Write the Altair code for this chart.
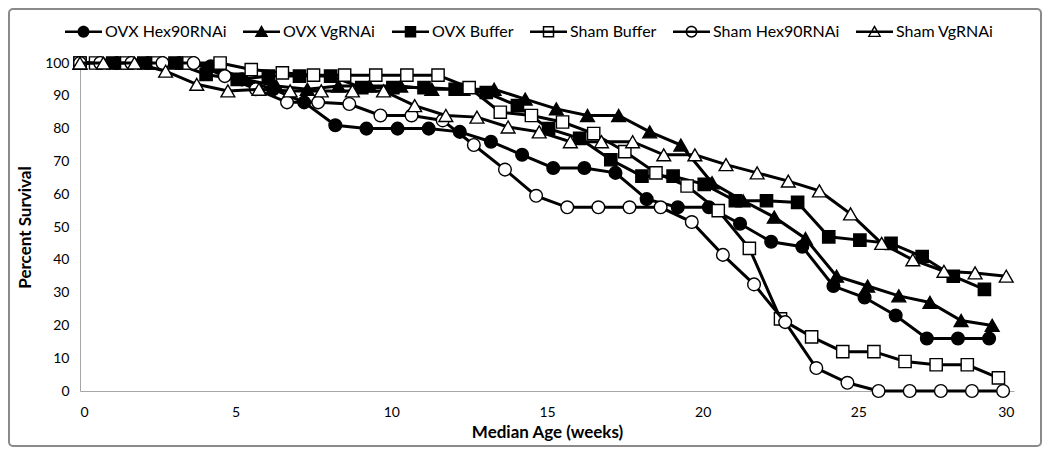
import altair as alt
import pandas as pd

series_names = ["OVX Hex90RNAi", "OVX VgRNAi", "OVX Buffer",
                "Sham Buffer", "Sham Hex90RNAi", "Sham VgRNAi"]

ovx_hex_x = [0, 1.2, 2.2, 3.2, 4.2, 5.2, 6.2, 7.2, 8.2, 9.2, 10.2, 11.2, 12.2, 13.2, 14.2,
             15.2, 16.2, 17.2, 18.2, 19.2, 20.2, 21.2, 22.2, 23.2, 24.2, 25.2, 26.2, 27.2, 28.2, 29.2]
ovx_hex_y = [100, 100, 100, 100, 99, 95, 92, 88, 81, 80, 80, 80, 79, 76, 72,
             68, 68, 66.5, 58.5, 56, 56, 51, 45.5, 44, 32, 28.5, 23, 16, 16, 16]

ovx_vg_x = [0, 1.3, 2.3, 3.3, 4.3, 5.3, 6.3, 7.3, 8.3, 9.3, 10.3, 11.3, 12.3, 13.3, 14.3,
            15.3, 16.3, 17.3, 18.3, 19.3, 20.3, 21.3, 22.3, 23.3, 24.3, 25.3, 26.3, 27.3, 28.3, 29.3]
ovx_vg_y = [100, 100, 100, 100, 99, 95, 93, 92, 93, 93, 93, 92, 92, 92, 89,
            86, 84, 84, 79, 75, 63.5, 58, 53, 46.5, 35, 32, 29, 27, 21.5, 20]

ovx_buf_x = [0, 1.05, 2.05, 3.05, 4.05, 5.05, 6.05, 7.05, 8.05, 9.05, 10.05, 11.05, 12.05, 13.05, 14.05,
             15.05, 16.05, 17.05, 18.05, 19.05, 20.05, 21.05, 22.05, 23.05, 24.05, 25.05, 26.05, 27.05, 28.05, 29.05]
ovx_buf_y = [100, 100, 100, 100, 96.5, 95, 96, 96, 96, 92.5, 92.5, 92.5, 92, 91, 87,
             80, 77, 70.5, 65.5, 65.5, 63, 58, 58, 57.5, 47, 46, 45, 41, 35, 31]

sham_buf_x = [0, 0.5, 1.5, 2.5, 3.5, 4.5, 5.5, 6.5, 7.5, 8.5, 9.5, 10.5, 11.5, 12.5, 13.5, 14.5,
              15.5, 16.5, 17.5, 18.5, 19.5, 20.5, 21.5, 22.5, 23.5, 24.5, 25.5, 26.5, 27.5, 28.5, 29.5]
sham_buf_y = [100, 100, 100, 100, 100, 100, 98, 97, 96.3, 96.3, 96.3, 96.3, 96.3, 92.5, 85, 84,
              82, 78.5, 73, 66.5, 62.5, 55, 43.5, 22, 16.5, 12, 12, 9, 8, 8, 4]

sham_hex_x = [0, 0.65, 1.65, 2.65, 3.65, 4.65, 5.65, 6.65, 7.65, 8.65, 9.65, 10.65, 11.65, 12.65, 13.65, 14.65,
              15.65, 16.65, 17.65, 18.65, 19.65, 20.65, 21.65, 22.65, 23.65, 24.65, 25.65, 26.65, 27.65, 28.65, 29.65]
sham_hex_y = [100, 100, 100, 100, 100, 96, 92, 88, 88, 87.5, 84, 84, 82.5, 75, 67.5, 59.5,
              56, 56, 56, 56, 51.5, 41.5, 32.5, 21, 7, 2.5, 0, 0, 0, 0, 0]

sham_vg_x = [0, 0.75, 1.75, 2.75, 3.75, 4.75, 5.75, 6.75, 7.75, 8.75, 9.75, 10.75, 11.75, 12.75, 13.75, 14.75,
             15.75, 16.75, 17.75, 18.75, 19.75, 20.75, 21.75, 22.75, 23.75, 24.75, 25.75, 26.75, 27.75, 28.75, 29.75]
sham_vg_y = [100, 100, 100, 97.5, 93.5, 91.5, 92, 91.5, 91.5, 91.5, 91.5, 87, 84, 83.5, 80.5, 79,
             76, 76, 76, 72, 72, 69, 66.5, 64, 61, 54, 45, 40, 36.5, 36, 35]

x_ticks = [0, 5, 10, 15, 20, 25, 30]
y_ticks = [0, 10, 20, 30, 40, 50, 60, 70, 80, 90, 100]

series_data = [
    (ovx_hex_x, ovx_hex_y, "circle", "black"),
    (ovx_vg_x, ovx_vg_y, "triangle-up", "black"),
    (ovx_buf_x, ovx_buf_y, "square", "black"),
    (sham_buf_x, sham_buf_y, "square", "white"),
    (sham_hex_x, sham_hex_y, "circle", "white"),
    (sham_vg_x, sham_vg_y, "triangle-up", "white"),
]

FONT = "Lato, Open Sans, sans-serif"

# legend symbols (filled outlines only): a line through the marker; open markers have a hole
LINE = "M-1,-0.07H1V0.07H-1Z"
CIRC = "M0.32,0A0.32,0.32,0,1,1,-0.32,0A0.32,0.32,0,1,1,0.32,0Z"
CIRC_HOLE = "M0.24,0A0.24,0.24,0,1,0,-0.24,0A0.24,0.24,0,1,0,0.24,0Z"
SQ = "M-0.31,-0.31H0.31V0.31H-0.31Z"
SQ_HOLE = "M-0.23,-0.23V0.23H0.23V-0.23Z"
TRI = "M0,-0.36L0.37,0.28L-0.37,0.28Z"
TRI_HOLE = "M0,-0.2L-0.25,0.21L0.25,0.21Z"
legend_paths = [
    LINE + CIRC,
    LINE + TRI,
    LINE + SQ,
    LINE + SQ + SQ_HOLE,
    LINE + CIRC + CIRC_HOLE,
    LINE + TRI + TRI_HOLE,
]

x_scale = alt.Scale(domain=[0, 30], nice=False)
y_scale = alt.Scale(domain=[0, 100], nice=False)
x_axis = alt.Axis(values=x_ticks, title="Median Age (weeks)", labelPadding=14, titlePadding=5)
y_axis = alt.Axis(values=y_ticks, title="Percent Survival", labelPadding=11, titlePadding=10)

frame = alt.Chart(pd.DataFrame({"f": [0]})).mark_rect(
    fillOpacity=0, stroke="#8a8a8a", strokeWidth=2, cornerRadius=4
).encode(x=alt.value(-71), x2=alt.value(961), y=alt.value(-54), y2=alt.value(383))

layers = [frame]
sizes = {"circle": 160, "triangle-up": 190, "square": 150}
for name, (xs, ys, shape, fill) in zip(series_names, series_data):
    df = pd.DataFrame({"age": xs, "survival": ys, "series": name})
    base = alt.Chart(df).encode(
        x=alt.X("age:Q", scale=x_scale, axis=x_axis),
        y=alt.Y("survival:Q", scale=y_scale, axis=y_axis),
    )
    layers.append(base.mark_line(color="black", strokeWidth=3))
    layers.append(base.mark_point(shape=shape, filled=True, fill=fill, stroke="black",
                                  strokeWidth=1.4, size=sizes[shape], opacity=1))

leg = alt.Legend(title=None, orient="none", legendX=-15, legendY=-50, direction="horizontal",
                 symbolOpacity=1, symbolSize=1369, symbolStrokeWidth=0,
                 symbolFillColor="black", labelFont=FONT,
                 labelFontSize=16, labelColor="black", labelOffset=3, columnPadding=16)
leg_df = pd.DataFrame({"series": series_names, "age": [0] * 6, "survival": [100] * 6})
legend_layer = alt.Chart(leg_df).mark_point(opacity=0, filled=True, fill="black",
                                            strokeWidth=0).encode(
    x=alt.X("age:Q", scale=x_scale, axis=x_axis),
    y=alt.Y("survival:Q", scale=y_scale, axis=y_axis),
    shape=alt.Shape("series:N", scale=alt.Scale(domain=series_names, range=legend_paths), legend=leg),
)
layers.append(legend_layer)

chart = alt.layer(*layers).properties(
    width=934, height=328,
    autosize=alt.AutoSizeParams(type="none"),
    padding={"left": 72, "top": 55, "right": 28, "bottom": 56},
).configure_view(stroke=None).configure_axis(
    grid=False, ticks=False, domainColor="#a6a6a6", domainWidth=1,
    labelFont=FONT, labelFontSize=14, labelColor="black",
    titleFont=FONT, titleFontSize=17, titleFontWeight="bold", titleColor="black",
)

chart.save("out.html", embed_options={"renderer": "svg", "actions": False})
